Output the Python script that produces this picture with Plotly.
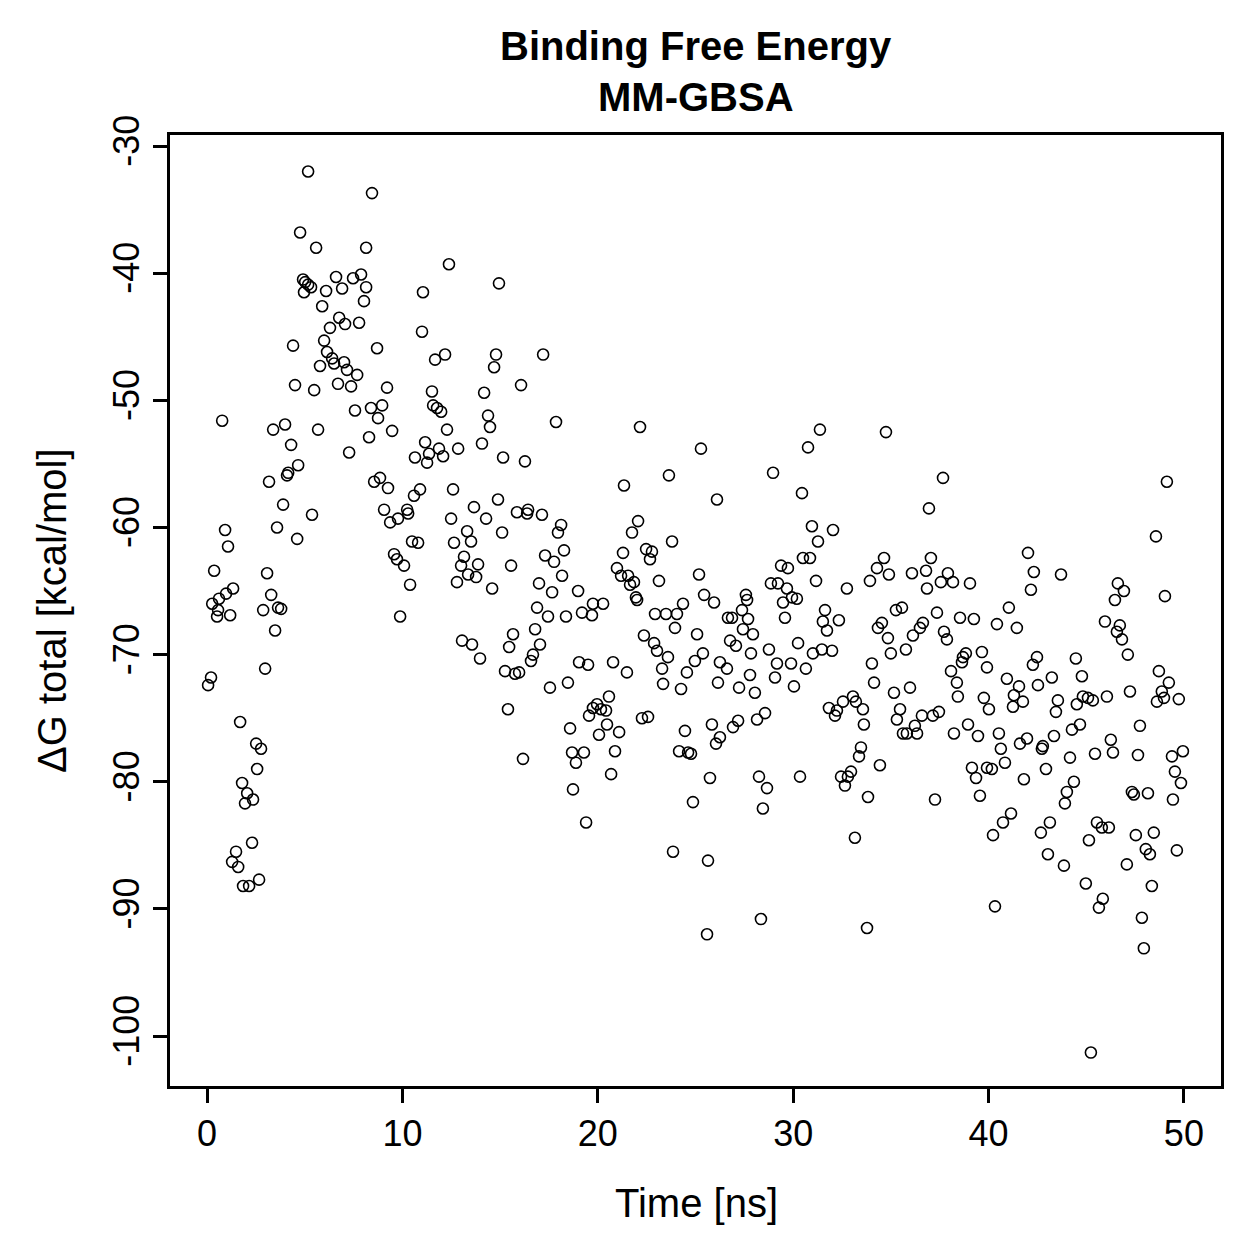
import plotly.graph_objects as go

# Time [ns]
time_ns = [
0.05,0.20,0.36,0.26,0.61,0.97,1.33,0.56,0.51,1.18,0.77,0.92,1.07,1.69,2.51,2.76,2.56,1.79,2.05,2.35,
1.94,2.30,1.48,1.28,1.59,2.66,1.84,2.15,2.97,3.48,2.87,3.63,3.79,3.28,3.07,3.58,4.61,3.89,5.37,3.17,
4.66,4.15,4.09,4.30,7.27,3.99,3.38,5.68,7.57,4.50,5.48,6.70,7.37,4.40,5.99,6.14,6.40,6.50,7.01,7.16,
7.68,5.78,6.76,7.06,6.29,7.78,5.89,6.09,6.60,6.91,7.47,7.88,8.14,8.03,4.91,5.02,5.17,5.32,4.96,4.76,
5.58,8.14,5.17,8.44,
8.70,12.38,14.94,11.05,11.00,11.67,12.18,14.79,14.69,17.20,9.21,11.51,14.18,16.07,8.39,8.96,8.75,11.57,11.77,11.98,
14.38,14.48,9.47,12.28,8.29,11.16,11.87,11.36,10.64,11.26,12.08,12.85,14.07,15.15,16.27,8.85,8.55,9.26,10.90,10.59,
12.59,14.89,13.66,9.06,9.37,9.77,10.24,10.29,12.49,14.28,15.86,16.43,16.38,17.14,13.31,13.51,12.64,15.10,10.49,10.80,
9.57,9.72,10.08,17.30,13.15,13.00,13.87,15.56,13.36,13.77,12.79,10.39,14.59,16.99,16.89,9.88,13.05,13.56,13.97,15.66,
15.46,16.79,17.04,16.68,16.58,15.25,15.76,15.97,15.40,16.17,
17.86,22.16,25.28,23.64,21.34,26.10,18.12,17.96,22.06,21.75,23.80,17.76,18.27,21.29,22.47,22.77,22.67,20.98,21.19,21.55,
21.85,21.65,18.17,23.13,25.18,17.66,18.99,21.95,25.44,25.95,19.75,20.27,24.36,17.45,18.37,19.19,19.70,22.01,22.93,23.49,
24.05,22.36,22.88,23.03,23.59,23.29,23.34,23.95,25.08,25.38,24.97,24.56,24.26,26.25,26.15,19.04,19.50,20.78,21.49,17.55,
18.47,20.57,19.96,19.75,20.16,20.42,19.55,18.58,20.47,20.06,21.09,22.26,22.57,24.46,25.84,26.05,26.25,18.68,19.29,18.88,
20.88,24.16,24.62,24.77,20.68,25.74,18.73,24.87,19.40,23.85,25.64,25.59,
31.37,34.75,30.76,28.97,30.45,30.96,31.27,32.04,34.65,34.29,34.90,33.93,30.50,30.86,29.38,29.73,28.86,29.22,29.68,29.94,
30.19,29.48,31.17,32.75,27.58,27.38,31.63,27.64,26.66,26.87,27.69,27.43,27.94,29.58,31.52,32.34,31.73,34.54,34.34,34.85,
26.77,27.07,27.84,28.76,30.25,31.01,31.47,31.99,35.00,26.61,29.17,29.89,30.65,27.79,29.07,27.23,28.04,30.04,34.03,34.14,
31.83,32.24,32.14,32.55,33.06,33.21,33.57,33.62,28.56,28.15,27.18,26.92,33.47,33.37,34.44,28.25,28.66,30.35,32.45,32.96,
32.80,32.65,33.83,28.45,33.16,28.35,33.78,
37.67,36.95,37.05,36.80,36.08,37.92,38.18,37.56,36.85,39.05,42.02,42.32,42.17,43.71,35.26,35.57,37.36,41.04,38.54,39.25,
40.43,41.45,36.64,36.49,36.13,35.77,37.72,37.87,38.84,38.69,38.64,39.66,39.92,38.08,38.38,38.43,42.48,42.27,40.94,41.56,
41.30,41.76,41.25,42.53,43.24,43.55,43.45,39.76,40.02,35.16,35.98,35.47,35.31,36.59,37.15,37.46,36.23,35.62,35.82,36.34,
38.95,38.23,39.46,40.53,40.63,40.84,41.61,41.97,42.78,42.73,43.35,39.15,39.36,39.92,40.17,42.94,41.81,39.56,37.26,41.15,
40.74,40.23,43.14,42.68,43.04,40.33,
49.13,48.57,46.62,46.93,46.47,49.03,45.96,46.72,46.57,46.83,47.13,44.47,48.72,49.23,48.87,48.98,48.62,49.74,44.78,44.83,
45.09,45.34,44.52,46.06,47.24,44.68,44.27,47.75,46.26,46.37,45.45,44.17,47.65,49.39,49.95,49.54,49.85,49.44,44.37,44.01,
43.91,47.34,47.44,48.16,45.55,45.80,46.16,45.14,47.54,48.46,48.05,48.26,49.64,43.86,47.08,44.98,48.36,45.85,45.65,47.85,
47.95,45.24,
]

# Delta G total [kcal/mol]
dg_total = [
-72.4,-71.8,-63.4,-66.0,-65.6,-65.2,-64.8,-66.5,-67.0,-66.9,-51.6,-60.2,-61.5,-75.3,-77.0,-77.4,-79.0,-80.1,-80.9,-81.4,
-81.7,-84.8,-85.5,-86.3,-86.7,-87.7,-88.2,-88.2,-71.1,-68.1,-66.5,-66.3,-66.4,-65.3,-63.6,-60.0,-60.9,-58.2,-59.0,-56.4,
-55.1,-55.7,-55.9,-53.5,-54.1,-51.9,-52.3,-52.3,-50.8,-48.8,-49.2,-48.7,-48.9,-45.7,-45.3,-46.2,-46.7,-47.1,-47.0,-47.6,
-48.0,-47.3,-43.5,-44.0,-44.3,-43.9,-42.6,-41.4,-40.3,-41.2,-40.4,-40.1,-41.1,-42.2,-40.5,-40.7,-40.9,-41.1,-41.5,-36.8,
-38.0,-38.0,-32.0,-33.7,
-45.9,-39.3,-40.8,-41.5,-44.6,-46.8,-46.4,-46.4,-47.4,-46.4,-49.0,-49.3,-49.4,-48.8,-50.6,-50.4,-51.4,-50.4,-50.6,-50.9,
-51.2,-52.1,-52.4,-52.3,-52.9,-53.3,-53.8,-54.2,-54.5,-54.9,-54.4,-53.8,-53.4,-54.5,-54.8,-56.1,-56.4,-56.9,-57.0,-57.5,
-57.0,-57.8,-58.4,-58.6,-59.6,-59.3,-58.6,-58.9,-59.3,-59.3,-58.8,-58.6,-58.9,-59.0,-60.3,-61.1,-61.2,-60.4,-61.1,-61.2,
-62.1,-62.5,-63.0,-62.2,-62.3,-63.0,-62.9,-63.0,-63.7,-63.9,-64.3,-64.5,-64.8,-64.4,-66.3,-67.0,-68.9,-69.2,-70.3,-68.4,
-69.4,-68.0,-69.2,-70.0,-70.5,-71.3,-71.5,-71.4,-74.3,-78.2,
-51.7,-52.1,-53.8,-55.9,-56.7,-57.8,-59.8,-60.4,-59.5,-60.4,-61.1,-62.7,-61.8,-62.0,-61.7,-61.9,-62.5,-63.2,-63.8,-63.8,
-64.3,-64.5,-63.8,-64.2,-63.7,-65.1,-65.0,-65.5,-65.3,-65.9,-66.0,-66.0,-66.0,-67.0,-67.0,-66.7,-66.9,-65.7,-66.8,-66.8,
-66.8,-68.5,-69.1,-69.7,-70.2,-71.1,-72.3,-67.9,-68.4,-69.9,-70.5,-71.4,-72.7,-70.6,-72.2,-70.6,-70.8,-70.6,-71.4,-72.6,
-72.2,-73.3,-73.9,-74.2,-74.3,-74.4,-74.8,-75.8,-75.5,-76.3,-76.1,-75.0,-74.9,-76.0,-75.5,-77.0,-76.5,-77.7,-77.7,-78.5,
-77.6,-77.6,-77.7,-77.8,-79.4,-79.7,-80.6,-81.6,-83.2,-85.5,-86.2,-92.0,
-52.3,-52.5,-53.7,-55.7,-57.3,-59.9,-61.1,-60.2,-62.4,-63.2,-63.7,-64.2,-62.4,-62.4,-63.0,-63.2,-64.4,-64.4,-64.8,-65.5,
-65.6,-65.9,-64.2,-64.8,-65.3,-66.5,-66.5,-65.7,-67.1,-67.1,-67.2,-68.0,-68.4,-67.1,-67.4,-67.3,-68.1,-67.5,-67.9,-68.7,
-68.9,-69.3,-69.9,-69.6,-69.1,-69.9,-69.6,-69.7,-69.9,-71.1,-70.7,-70.7,-71.1,-71.6,-71.8,-72.6,-73.0,-72.5,-70.7,-72.2,
-74.2,-74.4,-74.8,-73.7,-73.3,-73.7,-74.3,-75.5,-74.6,-75.1,-75.2,-75.7,-77.3,-78.0,-78.7,-79.6,-80.5,-79.6,-79.6,-79.2,
-79.6,-80.3,-81.2,-82.1,-84.4,-90.8,-91.5,
-56.1,-58.5,-62.4,-63.4,-63.6,-63.6,-64.3,-64.3,-64.8,-64.4,-62.0,-63.5,-64.9,-63.7,-66.5,-66.3,-66.7,-66.3,-67.1,-67.2,
-67.6,-67.9,-67.5,-67.9,-68.5,-69.6,-68.2,-68.8,-69.9,-70.2,-70.6,-69.8,-71.0,-71.3,-72.2,-73.3,-70.2,-70.8,-71.9,-72.5,
-73.2,-73.7,-74.1,-72.4,-71.8,-73.6,-74.5,-73.4,-74.3,-73.0,-72.6,-74.3,-75.1,-74.8,-74.8,-74.5,-75.6,-76.2,-76.2,-76.2,
-75.5,-76.2,-76.4,-76.2,-77.4,-78.5,-77.0,-76.6,-77.2,-77.4,-76.4,-78.9,-79.7,-78.9,-79.0,-79.0,-79.8,-81.1,-81.4,-82.5,
-83.2,-84.2,-83.2,-84.0,-85.7,-89.8,
-56.4,-60.7,-64.4,-65.0,-65.7,-65.4,-67.4,-67.7,-68.2,-68.8,-70.0,-70.3,-71.3,-72.2,-72.9,-73.4,-73.7,-73.5,-71.7,-73.3,
-73.4,-73.6,-73.9,-73.3,-72.9,-75.5,-75.9,-75.6,-76.7,-77.7,-77.8,-78.1,-77.9,-78.0,-77.6,-79.2,-80.1,-81.4,-80.0,-80.8,
-81.7,-80.8,-81.0,-80.9,-83.2,-83.6,-83.6,-84.6,-84.2,-84.0,-85.3,-85.7,-85.4,-86.6,-86.5,-88.0,-88.2,-89.2,-89.9,-90.7,
-93.1,-101.3,
]

x_tick_vals = [0, 10, 20, 30, 40, 50]
x_tick_text = ["0", "10", "20", "30", "40", "50"]
y_tick_vals = [-100, -90, -80, -70, -60, -50, -40, -30]
y_tick_text = ["-100", "-90", "-80", "-70", "-60", "-50", "-40", "-30"]

title_lines = ["Binding Free Energy", "MM-GBSA"]
x_label = "Time [ns]"
y_label = "ΔG total [kcal/mol]"

FONT = "Liberation Sans, Arial, Helvetica, sans-serif"
TICK_SIZE = 36
LABEL_SIZE = 40
TITLE_SIZE = 40

fig = go.Figure()
fig.add_trace(go.Scatter(
    x=time_ns, y=dg_total, mode="markers",
    marker=dict(symbol="circle-open", size=11, color="black", line=dict(width=1.6, color="black")),
    showlegend=False, hoverinfo="x+y",
))

fig.update_layout(
    width=1259, height=1259,
    margin=dict(l=170, r=38, t=135, b=173),
    paper_bgcolor="white", plot_bgcolor="white",
    font=dict(family=FONT, size=TICK_SIZE, color="black"),
)

fig.update_xaxes(
    range=[-1.9, 51.9], tickmode="array", tickvals=x_tick_vals, ticktext=x_tick_text,
    showgrid=False, zeroline=False, showline=True, mirror=True,
    linecolor="black", linewidth=2.5,
    ticks="outside", ticklen=14, tickwidth=2.5, tickcolor="black",
    tickfont=dict(family=FONT, size=TICK_SIZE, color="black"),
)
fig.update_yaxes(
    range=[-103.93, -29.13], tickmode="array", tickvals=y_tick_vals, ticktext=y_tick_text,
    tickangle=-90,
    showgrid=False, zeroline=False, showline=True, mirror=True,
    linecolor="black", linewidth=2.5,
    ticks="outside", ticklen=14, tickwidth=2.5, tickcolor="black",
    tickfont=dict(family=FONT, size=TICK_SIZE, color="black"),
)

# plot area spans x 170..1221, y 135..1086 pixels
def px_to_paper_x(px):
    return (px - 170) / 1051.0

def px_to_paper_y(py):
    return (1086 - py) / 951.0

annotations = [
    dict(text="<b>%s</b>" % title_lines[0], x=px_to_paper_x(696), y=px_to_paper_y(46),
         font=dict(family=FONT, size=TITLE_SIZE, color="black")),
    dict(text="<b>%s</b>" % title_lines[1], x=px_to_paper_x(696), y=px_to_paper_y(97),
         font=dict(family=FONT, size=TITLE_SIZE, color="black")),
    dict(text=x_label, x=px_to_paper_x(696), y=px_to_paper_y(1203),
         font=dict(family=FONT, size=LABEL_SIZE, color="black")),
    dict(text=y_label, x=px_to_paper_x(52), y=px_to_paper_y(611), textangle=-90,
         font=dict(family=FONT, size=LABEL_SIZE, color="black")),
]
for a in annotations:
    a.update(xref="paper", yref="paper", xanchor="center", yanchor="middle", showarrow=False)
fig.update_layout(annotations=annotations)

fig.write_html("out.html")
